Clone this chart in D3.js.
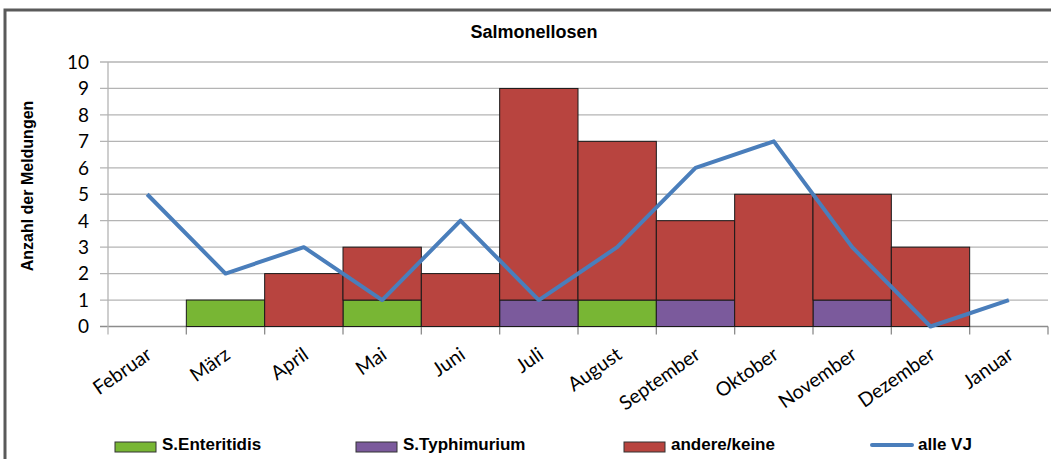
<!DOCTYPE html>
<html>
<head>
<meta charset="utf-8">
<title>Salmonellosen</title>
<script src="https://d3js.org/d3.v7.min.js"></script>
<style>
body { margin: 0; background: #fff; }
.tick-y { font-family: Lato, "Open Sans", sans-serif; font-size: 19px; fill: #000; }
.tick-x { font-family: Lato, "Open Sans", sans-serif; font-size: 19.5px; fill: #000; }
.bold { font-family: "Liberation Sans", Arial, sans-serif; font-weight: bold; fill: #000; }
</style>
</head>
<body>
<script>
// months and values
var months = ["Februar","März","April","Mai","Juni","Juli","August","September","Oktober","November","Dezember","Januar"];
var enteritidis = [0,1,0,1,0,0,1,0,0,0,0,0];
var typhimurium = [0,0,0,0,0,1,0,1,0,1,0,0];
var andere      = [0,0,2,2,2,8,6,3,5,4,3,0];
var alleVJ      = [5,2,3,1,4,1,3,6,7,3,0,1];
var yTicks = [0,1,2,3,4,5,6,7,8,9,10];

var seriesKeys = ["ent","typ","and"];
var seriesNames = ["S.Enteritidis","S.Typhimurium","andere/keine"];
var colors = {ent: "#78b634", typ: "#7b5a9c", and: "#b8443f"};
var lineColor = "#4a7ebb";

var width = 1051, height = 459;
// plot area
var pLeft = 108, pRight = 1048, pTop = 62, pBottom = 326.5;

var svg = d3.select("body").append("svg")
    .attr("width", width)
    .attr("height", height);

// outer frame
svg.append("path")
    .attr("d", "M5," + height + "V10H" + width)
    .attr("fill", "none")
    .attr("stroke", "#5a5a5a")
    .attr("stroke-width", 3);

var x = d3.scaleBand().domain(months).range([pLeft, pRight]).padding(0);
var y = d3.scaleLinear().domain([0, 10]).range([pBottom, pTop]);

// grid lines (with small tick stubs to the left)
svg.append("g").selectAll("line")
    .data(yTicks)
    .enter().append("line")
    .attr("x1", pLeft - 8).attr("x2", pRight)
    .attr("y1", function(d){ return y(d); })
    .attr("y2", function(d){ return y(d); })
    .attr("stroke", function(d){ return d == 0 ? "#8c8c8c" : "#b4b4b4"; })
    .attr("stroke-width", 1.3);

// y axis line
svg.append("line")
    .attr("x1", pLeft).attr("x2", pLeft)
    .attr("y1", pTop).attr("y2", pBottom + 8)
    .attr("stroke", "#b4b4b4").attr("stroke-width", 1.3);

// x tick marks on category borders
svg.append("g").selectAll("line")
    .data(months.slice(1).concat(["end"]))
    .enter().append("line")
    .attr("x1", function(d){ return d == "end" ? pRight : x(d); })
    .attr("x2", function(d){ return d == "end" ? pRight : x(d); })
    .attr("y1", pBottom).attr("y2", pBottom + 8)
    .attr("stroke", "#8c8c8c").attr("stroke-width", 1.3);

// y tick labels
svg.append("g").selectAll("text")
    .data(yTicks)
    .enter().append("text")
    .attr("class", "tick-y")
    .attr("x", 89)
    .attr("y", function(d){ return y(d); })
    .attr("dy", "0.36em")
    .attr("text-anchor", "end")
    .text(function(d){ return d; });

// stacked bars
var table = months.map(function(m, i){
    return {month: m, ent: enteritidis[i], typ: typhimurium[i], and: andere[i]};
});
var stacked = d3.stack().keys(seriesKeys)(table);

svg.append("g").selectAll("g")
    .data(stacked)
    .enter().append("g")
    .attr("fill", function(d){ return colors[d.key]; })
    .selectAll("rect")
    .data(function(d){ return d.filter(function(p){ return p[1] > p[0]; }); })
    .enter().append("rect")
    .attr("x", function(d){ return x(d.data.month); })
    .attr("width", x.bandwidth())
    .attr("y", function(d){ return y(d[1]); })
    .attr("height", function(d){ return y(d[0]) - y(d[1]); })
    .attr("stroke", "#1a1a1a")
    .attr("stroke-width", 1);

// alle VJ line
var line = d3.line()
    .x(function(d, i){ return x(months[i]) + x.bandwidth() / 2; })
    .y(function(d){ return y(d); });

svg.append("path")
    .datum(alleVJ)
    .attr("d", line)
    .attr("fill", "none")
    .attr("stroke", lineColor)
    .attr("stroke-width", 4)
    .attr("stroke-linejoin", "round");

// x labels, rotated
svg.append("g").selectAll("text")
    .data(months)
    .enter().append("text")
    .attr("class", "tick-x")
    .attr("text-anchor", "end")
    .attr("transform", function(d){
        return "translate(" + (x(d) + x.bandwidth() / 2 + 6) + "," + (pBottom + 31) + ") rotate(-35)";
    })
    .text(function(d){ return d; });

// title
svg.append("text")
    .attr("class", "bold")
    .attr("x", 534).attr("y", 38)
    .attr("text-anchor", "middle")
    .style("font-size", "18px")
    .text("Salmonellosen");

// y axis title
svg.append("text")
    .attr("class", "bold")
    .attr("transform", "translate(33,186) rotate(-90)")
    .attr("text-anchor", "middle")
    .style("font-size", "16px")
    .text("Anzahl der Meldungen");

// legend
var legendX = [115, 356, 624, 870];
var lg = svg.append("g");
seriesKeys.forEach(function(k, i){
    lg.append("rect")
        .attr("x", legendX[i]).attr("y", 442)
        .attr("width", 41).attr("height", 10)
        .attr("fill", colors[k])
        .attr("stroke", "#333").attr("stroke-width", 1);
    lg.append("text")
        .attr("class", "bold")
        .attr("x", legendX[i] + 47).attr("y", 450)
        .style("font-size", "17px")
        .text(seriesNames[i]);
});
lg.append("line")
    .attr("x1", legendX[3] + 2).attr("x2", legendX[3] + 42)
    .attr("y1", 445).attr("y2", 445)
    .attr("stroke", lineColor).attr("stroke-width", 4)
    .attr("stroke-linecap", "round");
lg.append("text")
    .attr("class", "bold")
    .attr("x", legendX[3] + 48).attr("y", 450)
    .style("font-size", "17px")
    .text("alle VJ");
</script>
</body>
</html>
